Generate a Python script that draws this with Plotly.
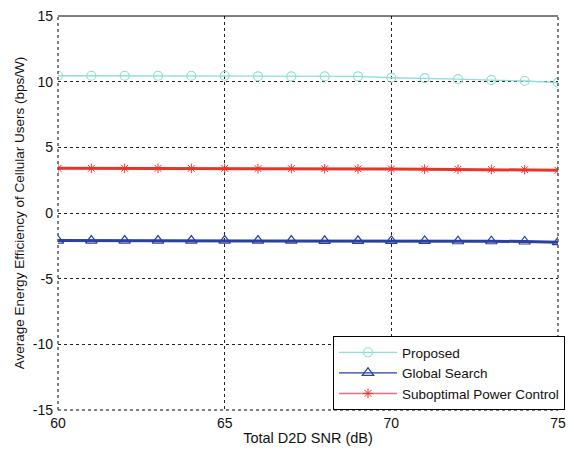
import plotly.graph_objects as go

snr = list(range(60, 76))
proposed = [10.45, 10.45, 10.45, 10.45, 10.45, 10.45, 10.4, 10.4, 10.4, 10.4, 10.3, 10.27, 10.2, 10.12, 10.05, 9.92]
global_search = [-2.1, -2.1, -2.1, -2.1, -2.1, -2.1, -2.1, -2.1, -2.12, -2.12, -2.13, -2.13, -2.15, -2.15, -2.17, -2.22]
suboptimal = [3.4, 3.4, 3.4, 3.4, 3.4, 3.4, 3.38, 3.38, 3.37, 3.36, 3.35, 3.34, 3.33, 3.32, 3.3, 3.25]

x_ticks = [60, 65, 70, 75]
y_ticks = [-15, -10, -5, 0, 5, 10, 15]
y_tick_labels = ["-15", "-10", "-5", "0", "5", "10", "15"]

c_prop = "#8fded6"
c_glob = "#2b3f9e"
c_sub = "#e8352c"

fig = go.Figure()
fig.add_trace(go.Scatter(x=snr, y=proposed, mode="lines+markers", showlegend=False,
                         line=dict(color=c_prop, width=1.3),
                         marker=dict(symbol="circle-open", size=9, color=c_prop, line=dict(width=1.2))))
fig.add_trace(go.Scatter(x=snr, y=global_search, mode="lines+markers", showlegend=False,
                         line=dict(color=c_glob, width=3),
                         marker=dict(symbol="triangle-up-open", size=10, color=c_glob, line=dict(width=1.2))))
fig.add_trace(go.Scatter(x=snr, y=suboptimal, mode="lines+markers", showlegend=False,
                         line=dict(color=c_sub, width=3),
                         marker=dict(symbol="asterisk-open", size=8, color=c_sub, line=dict(width=1, color=c_sub))))
# legend entries (thin lines as in reference)
fig.add_trace(go.Scatter(x=[None], y=[None], mode="lines+markers", name="Proposed",
                         line=dict(color=c_prop, width=1.2),
                         marker=dict(symbol="circle-open", size=9, color=c_prop, line=dict(width=1.2))))
fig.add_trace(go.Scatter(x=[None], y=[None], mode="lines+markers", name="Global Search",
                         line=dict(color=c_glob, width=1.2),
                         marker=dict(symbol="triangle-up-open", size=10, color=c_glob, line=dict(width=1.2))))
fig.add_trace(go.Scatter(x=[None], y=[None], mode="lines+markers", name="Suboptimal Power Control",
                         line=dict(color="#f07070", width=1.5),
                         marker=dict(symbol="asterisk-open", size=8, color=c_sub, line=dict(width=1, color=c_sub))))

grid = dict(showgrid=True, gridcolor="#222222", griddash="dot", gridwidth=1, zeroline=False,
            showline=False, ticks="", tickfont=dict(size=14, color="#111111"))

fig.update_xaxes(range=[60, 75], tickvals=x_ticks, ticklabelstandoff=3, **grid,
                 title=dict(text="Total D2D SNR (dB)", font=dict(size=14.5, color="#111111"), standoff=2))
fig.update_yaxes(range=[-15, 15], tickvals=y_ticks, ticktext=y_tick_labels, ticklabelstandoff=4, **grid,
                 title=dict(text="Average Energy Efficiency of Cellular Users (bps/W)", font=dict(size=13.5, color="#111111"), standoff=5))

# frame: solid top, dotted left/bottom/right
fig.add_shape(type="line", xref="paper", yref="paper", x0=0, x1=1, y0=1, y1=1, line=dict(color="black", width=1))
for (x0, y0, x1, y1) in [(0, 0, 0, 1), (0, 0, 1, 0), (1, 0, 1, 1)]:
    fig.add_shape(type="line", xref="paper", yref="paper", x0=x0, x1=x1, y0=y0, y1=y1,
                  line=dict(color="#555555", width=1.5, dash="dot"))

fig.update_layout(
    width=574, height=454,
    margin=dict(l=58, r=8, t=11, b=44),
    paper_bgcolor="white", plot_bgcolor="white",
    font=dict(family="Liberation Sans, Arial, sans-serif", color="#111111"),
    legend=dict(x=1.014, y=0, xanchor="right", yanchor="bottom", bgcolor="white",
                bordercolor="black", borderwidth=1, font=dict(size=13.5),
                tracegroupgap=0, itemwidth=58),
)

fig.write_html("out.html")
